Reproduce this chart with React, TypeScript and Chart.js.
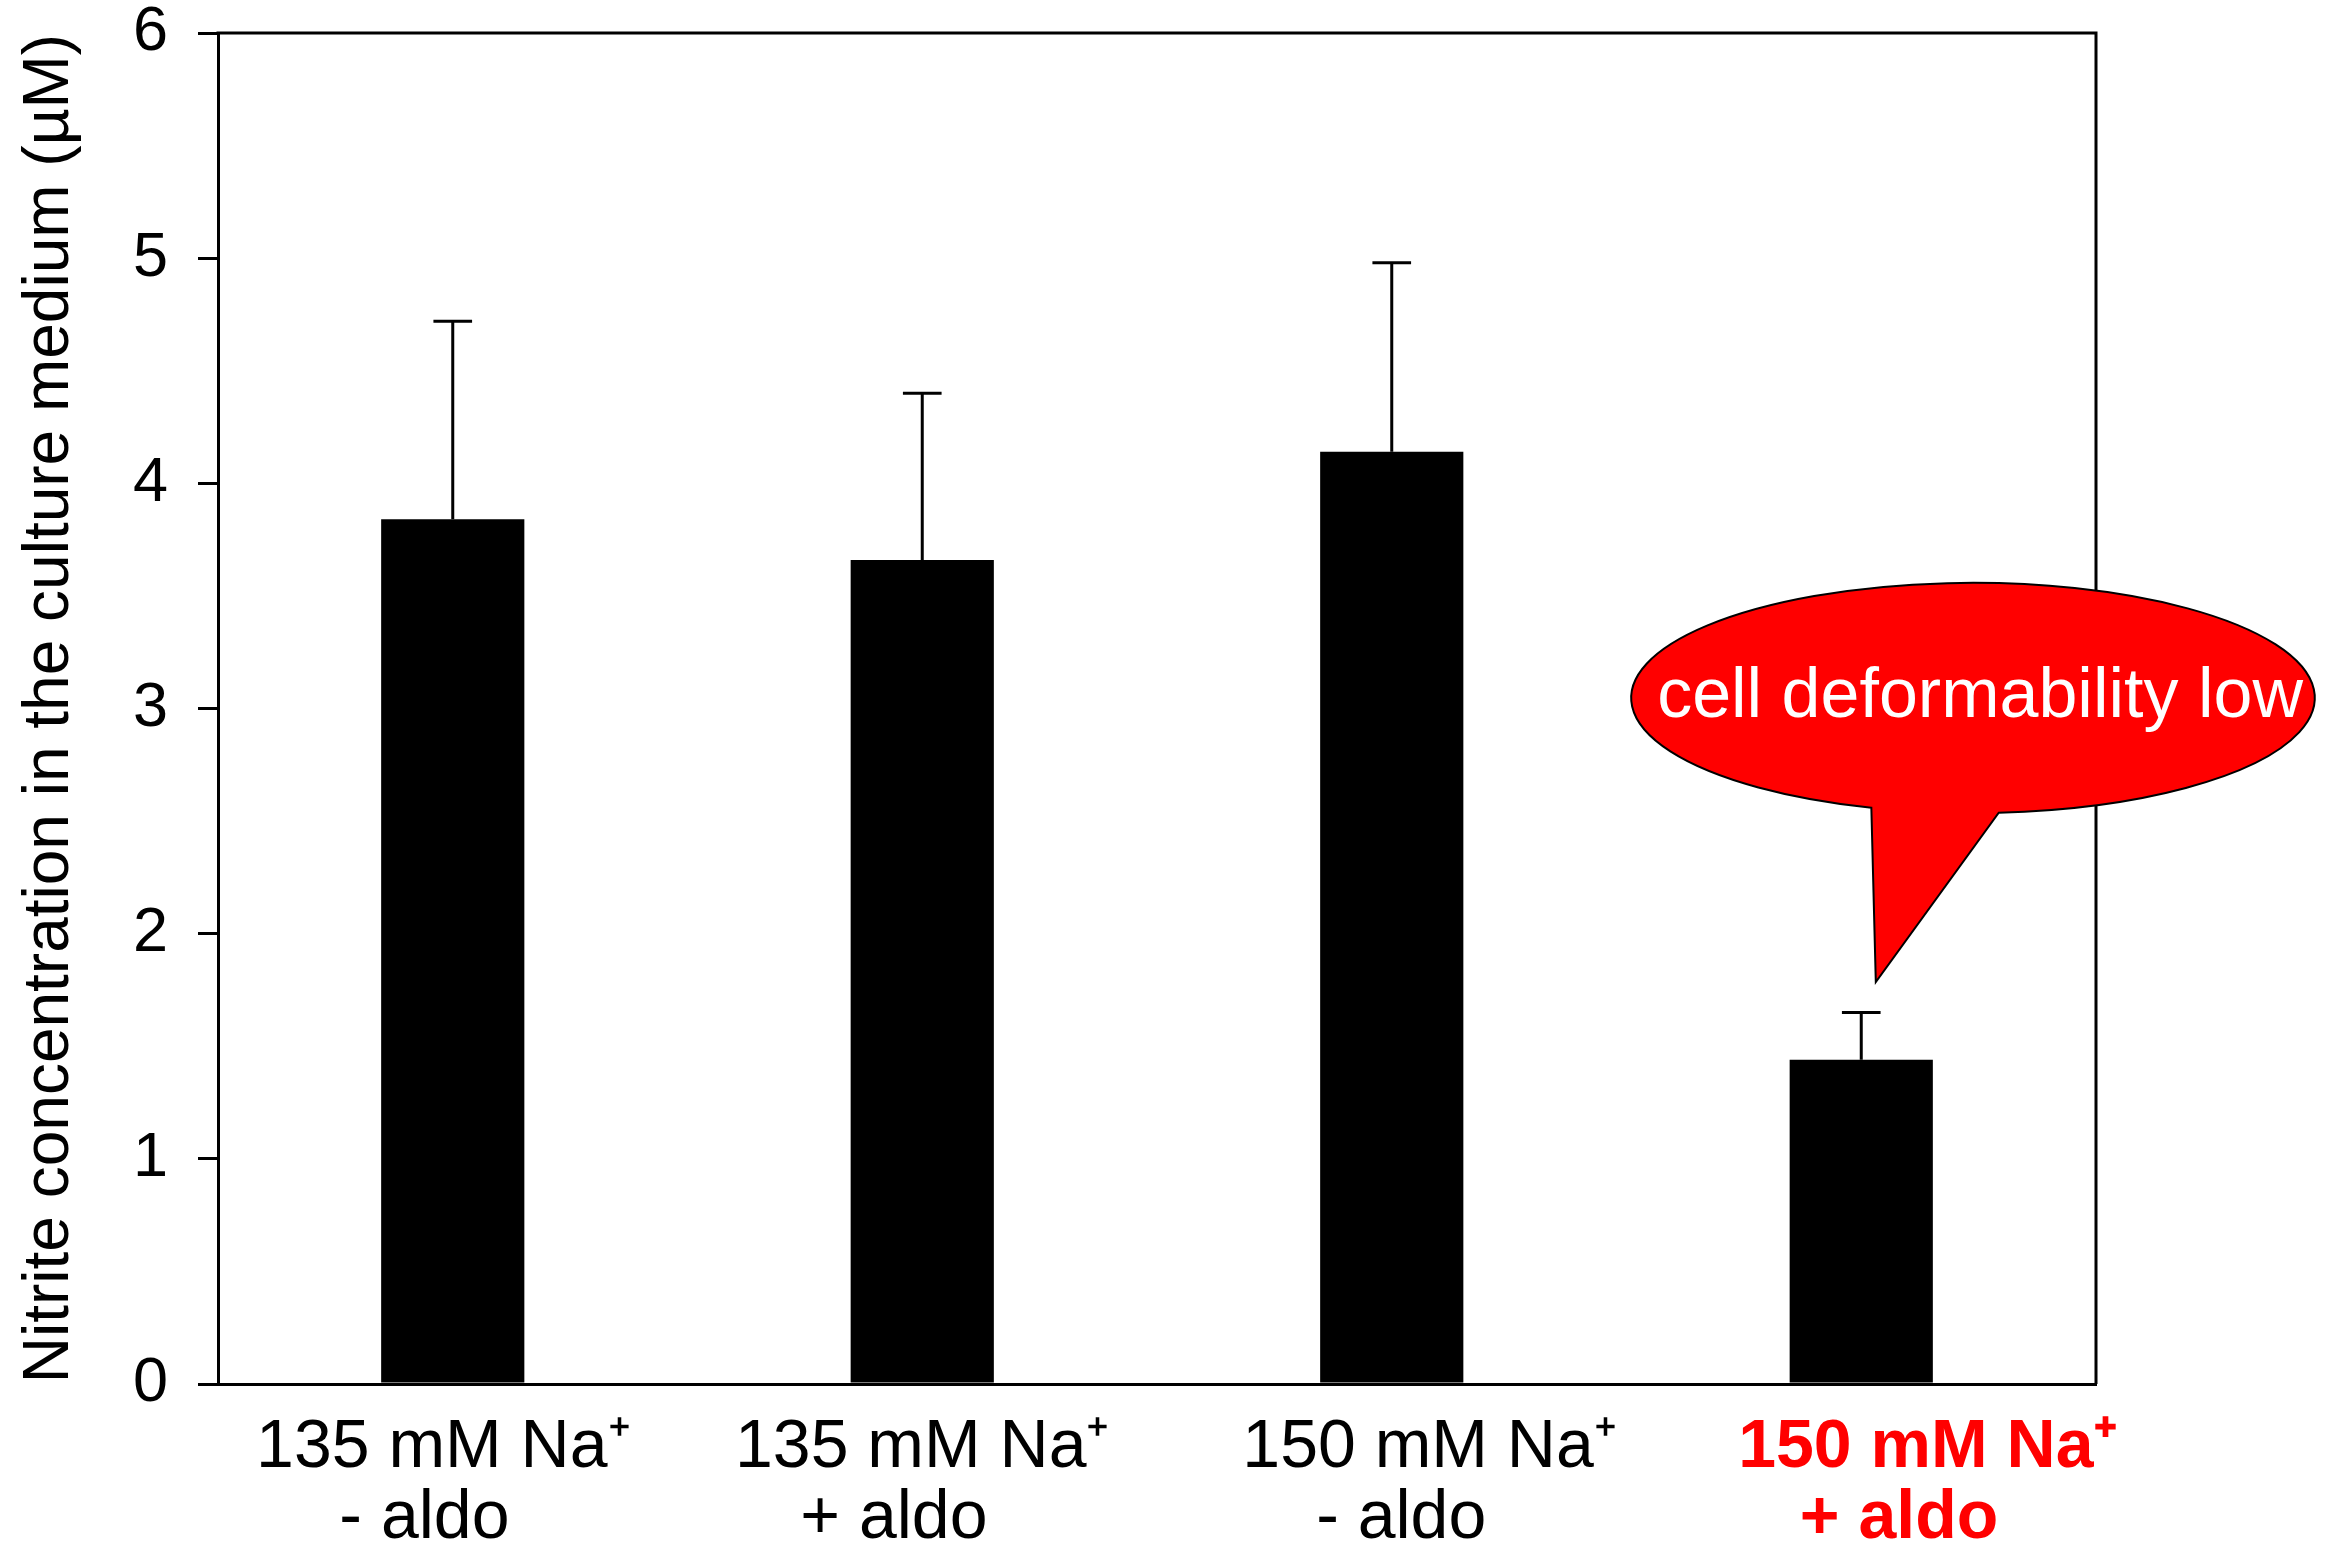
import React, { useEffect, useRef } from "react";
import { Chart, registerables } from "chart.js";

Chart.register(...registerables);

// ---- data ----
const labelLine1 = ["135 mM Na⁺", "135 mM Na⁺", "150 mM Na⁺", "150 mM Na⁺"];
const labelLine2 = ["- aldo", "+ aldo", "- aldo", "+ aldo"];
const meanValues = [3.84, 3.66, 4.14, 1.44];
const errorValues = [0.88, 0.74, 0.84, 0.21];
const yTickValues = [0, 1, 2, 3, 4, 5, 6];
const yAxisTitle = "Nitrite concentration in the culture medium (µM)";
const calloutText = "cell deformability low";

// ---- layout / style (not data) ----
const FONT = "'Liberation Sans', Arial, Helvetica, sans-serif";
const W = 2334;
const H = 1553;
// spaces used to nudge each label line sideways like the original text boxes
const line1Lead = [0, 0, 4, 7];
const line1Trail = [1, 0, 0, 0];
const line2Lead = [0, 0, 1, 4];
const line2Trail = [3, 3, 0, 0];
const highlightIndex = 3;
// callout geometry in (category index, value) space
const callout = {
  center: [3.238, 3.047],
  rx: 0.728,
  ry: 0.511,
  baseLeft: [3.021, 2.558],
  baseRight: [3.293, 2.536],
  tip: [3.031, 1.785],
  textPos: [3.253, 2.962],
};

const xLabels = labelLine1.map((l1, i) => [
  " ".repeat(line1Lead[i]) + l1 + " ".repeat(line1Trail[i]),
  " ".repeat(line2Lead[i]) + labelLine2[i] + " ".repeat(line2Trail[i]),
]);

const framePlugin = {
  id: "frame",
  beforeDatasetsDraw(chart: any) {
    const { ctx, chartArea } = chart;
    ctx.save();
    ctx.strokeStyle = "#000";
    ctx.lineWidth = 3;
    ctx.beginPath();
    ctx.moveTo(chartArea.left - 1.5, chartArea.top);
    ctx.lineTo(chartArea.right, chartArea.top);
    ctx.lineTo(chartArea.right, chartArea.bottom);
    ctx.stroke();
    ctx.restore();
  },
};

const errorBarPlugin = {
  id: "errorBars",
  afterDatasetsDraw(chart: any) {
    const { ctx } = chart;
    const yScale = chart.scales.y;
    const meta = chart.getDatasetMeta(0);
    ctx.save();
    ctx.strokeStyle = "#000";
    ctx.lineWidth = 3;
    meta.data.forEach((bar: any, i: number) => {
      const x = bar.x;
      const yBar = yScale.getPixelForValue(meanValues[i]);
      const yTop = yScale.getPixelForValue(meanValues[i] + errorValues[i]);
      const capHalf = bar.width * 0.135;
      ctx.beginPath();
      ctx.moveTo(x, yBar);
      ctx.lineTo(x, yTop);
      ctx.moveTo(x - capHalf, yTop);
      ctx.lineTo(x + capHalf, yTop);
      ctx.stroke();
    });
    ctx.restore();
  },
};

const calloutPlugin = {
  id: "callout",
  afterDraw(chart: any) {
    const { ctx } = chart;
    const xs = chart.scales.x;
    const ys = chart.scales.y;
    const px = (p: number[]) => [xs.getPixelForValue(p[0]), ys.getPixelForValue(p[1])];
    const [cx, cy] = px(callout.center);
    const rx = xs.getPixelForValue(callout.center[0] + callout.rx) - cx;
    const ry = cy - ys.getPixelForValue(callout.center[1] + callout.ry);
    const [blx, bly] = px(callout.baseLeft);
    const [brx, bry] = px(callout.baseRight);
    const [tx, ty] = px(callout.tip);
    const aL = Math.atan2((bly - cy) / ry, (blx - cx) / rx);
    const aR = Math.atan2((bry - cy) / ry, (brx - cx) / rx);
    ctx.save();
    ctx.beginPath();
    ctx.ellipse(cx, cy, rx, ry, 0, aL, aR, false);
    ctx.lineTo(tx, ty);
    ctx.closePath();
    ctx.fillStyle = "#FF0000";
    ctx.fill();
    ctx.strokeStyle = "#000";
    ctx.lineWidth = 2;
    ctx.lineJoin = "miter";
    ctx.stroke();
    const [lx, ly] = px(callout.textPos);
    ctx.fillStyle = "#FFFFFF";
    ctx.font = `70px ${FONT}`;
    ctx.textAlign = "center";
    ctx.textBaseline = "alphabetic";
    ctx.fillText(calloutText, lx, ly);
    ctx.restore();
  },
};

export default function App() {
  const canvasRef = useRef<HTMLCanvasElement | null>(null);

  useEffect(() => {
    const canvas = canvasRef.current;
    if (!canvas) return;
    const chart = new Chart(canvas, {
      type: "bar",
      data: {
        labels: xLabels,
        datasets: [
          {
            data: meanValues,
            backgroundColor: "#000000",
            borderWidth: 0,
            categoryPercentage: 1,
            barPercentage: 0.305,
          },
        ],
      },
      options: {
        animation: false,
        responsive: false,
        devicePixelRatio: 1,
        events: [],
        layout: { padding: { left: 0, right: 238, top: 33, bottom: 0 } },
        plugins: {
          legend: { display: false },
          tooltip: { enabled: false },
          title: { display: false },
        },
        scales: {
          x: {
            type: "category",
            offset: true,
            grid: { display: false, drawTicks: false },
            border: { display: true, color: "#000", width: 3 },
            ticks: {
              autoSkip: false,
              maxRotation: 0,
              minRotation: 0,
              padding: 29,
              color: (c: any) => (c.index === highlightIndex ? "#FF0000" : "#000000"),
              font: (c: any) => ({
                family: FONT,
                size: 68,
                lineHeight: 1.045,
                weight: c.index === highlightIndex ? "bold" : "normal",
              }),
            },
            afterFit: (scale: any) => {
              scale.height = H - 1384;
            },
          },
          y: {
            min: 0,
            max: 6,
            afterBuildTicks: (scale: any) => {
              scale.ticks = yTickValues.map((v) => ({ value: v }));
            },
            grid: {
              drawOnChartArea: false,
              drawTicks: true,
              tickLength: 20,
              color: "#000",
              lineWidth: 3,
            },
            border: { display: true, color: "#000", width: 3 },
            ticks: {
              padding: 30,
              color: "#000",
              font: { family: FONT, size: 63, lineHeight: 1 },
              callback: (v: any) => String(v),
            },
            title: {
              display: true,
              text: yAxisTitle,
              color: "#000",
              font: { family: FONT, size: 64, lineHeight: 1.2 },
              padding: { top: 12, bottom: 0 },
            },
            afterFit: (scale: any) => {
              scale.width = 218;
              scale.paddingTop = 0;
              scale.paddingBottom = 0;
            },
          },
        },
      },
      plugins: [framePlugin, errorBarPlugin, calloutPlugin],
    });
    return () => chart.destroy();
  }, []);

  return (
    <div style={{ position: "fixed", left: 0, top: 0, width: W, height: H, background: "#fff" }}>
      <canvas ref={canvasRef} width={W} height={H} style={{ display: "block", width: W, height: H }} />
    </div>
  );
}
